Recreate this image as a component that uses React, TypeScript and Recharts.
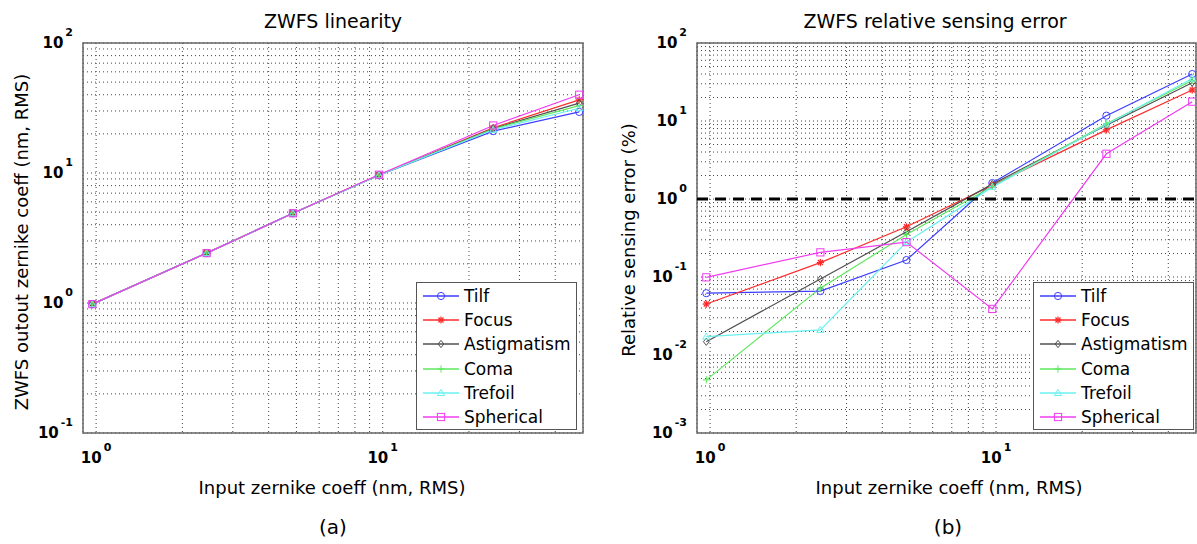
import React from "react";
import {
  LineChart,
  Line,
  XAxis,
  YAxis,
  CartesianGrid,
  ReferenceLine,
  ReferenceArea,
  Legend,
} from "recharts";

// input coefficient (nm RMS), shared by both panels
const inputCoeff = [0.97, 2.43, 4.86, 9.7, 24.3, 48.5];

const seriesNames = ["Tilf", "Focus", "Astigmatism", "Coma", "Trefoil", "Spherical"];
const seriesColors = ["#3d3dff", "#ff2b2b", "#505050", "#5fe85f", "#6af0f0", "#f03cf0"];
const seriesMarkers = ["circle", "star", "diamond", "plus", "triangle", "square"];

// (a) ZWFS output zernike coeff
const outTilf = [0.98, 2.42, 4.9, 9.6, 21.0, 29.5];
const outFocus = [0.98, 2.42, 4.9, 9.65, 22.3, 36.5];
const outAstig = [0.98, 2.42, 4.9, 9.6, 22.0, 34.5];
const outComa = [0.98, 2.42, 4.9, 9.6, 21.8, 33.0];
const outTrefoil = [0.98, 2.42, 4.9, 9.6, 21.5, 31.5];
const outSpherical = [0.98, 2.42, 4.9, 9.7, 23.2, 40.0];

// (b) relative sensing error (%)
const errTilf = [0.062, 0.066, 0.165, 1.6, 11.7, 40];
const errFocus = [0.045, 0.153, 0.44, 1.5, 7.7, 25];
const errAstig = [0.0148, 0.094, 0.38, 1.55, 8.8, 31];
const errComa = [0.0048, 0.072, 0.35, 1.45, 9.2, 33];
const errTrefoil = [0.0172, 0.021, 0.28, 1.42, 9.0, 35];
const errSpherical = [0.099, 0.207, 0.28, 0.039, 3.8, 17.7];

// log grid ticks
const xTicks = [1, 2, 3, 4, 5, 6, 7, 8, 9, 10, 20, 30, 40];
const yTicksA = [
  0.1, 0.2, 0.3, 0.4, 0.5, 0.6, 0.7, 0.8, 0.9,
  1, 2, 3, 4, 5, 6, 7, 8, 9,
  10, 20, 30, 40, 50, 60, 70, 80, 90, 100,
];
const yTicksB = [
  0.001, 0.002, 0.003, 0.004, 0.005, 0.006, 0.007, 0.008, 0.009,
  0.01, 0.02, 0.03, 0.04, 0.05, 0.06, 0.07, 0.08, 0.09,
  0.1, 0.2, 0.3, 0.4, 0.5, 0.6, 0.7, 0.8, 0.9,
  1, 2, 3, 4, 5, 6, 7, 8, 9,
  10, 20, 30, 40, 50, 60, 70, 80, 90, 100,
];

const buildRows = (cols: number[][]) =>
  inputCoeff.map((x, i) => {
    const row: any = { x };
    seriesNames.forEach((n, k) => (row[n] = cols[k][i]));
    return row;
  });

const dataA = buildRows([outTilf, outFocus, outAstig, outComa, outTrefoil, outSpherical]);
const dataB = buildRows([errTilf, errFocus, errAstig, errComa, errTrefoil, errSpherical]);

const FONT = "DejaVu Sans, Liberation Sans, sans-serif";

const Marker = ({ cx, cy, shape, color }: any) => {
  const s = 3.6;
  const common = { stroke: color, strokeWidth: 1, fill: "none" };
  switch (shape) {
    case "circle":
      return <circle cx={cx} cy={cy} r={s} {...common} />;
    case "square":
      return <rect x={cx - s} y={cy - s} width={2 * s} height={2 * s} {...common} />;
    case "diamond":
      return (
        <polygon
          points={`${cx},${cy - s} ${cx + s * 0.8},${cy} ${cx},${cy + s} ${cx - s * 0.8},${cy}`}
          {...common}
        />
      );
    case "triangle":
      return (
        <polygon
          points={`${cx},${cy - s} ${cx + s},${cy + s * 0.7} ${cx - s},${cy + s * 0.7}`}
          {...common}
        />
      );
    case "plus":
      return (
        <g {...common}>
          <line x1={cx - s} x2={cx + s} y1={cy} y2={cy} />
          <line x1={cx} x2={cx} y1={cy - s} y2={cy + s} />
        </g>
      );
    default: {
      const d = s * 0.7;
      return (
        <g {...common} strokeWidth={1.3}>
          <line x1={cx - s} x2={cx + s} y1={cy} y2={cy} />
          <line x1={cx} x2={cx} y1={cy - s} y2={cy + s} />
          <line x1={cx - d} x2={cx + d} y1={cy - d} y2={cy + d} />
          <line x1={cx - d} x2={cx + d} y1={cy + d} y2={cy - d} />
        </g>
      );
    }
  }
};

const decadeOf = (v: number) => {
  const e = Math.round(Math.log10(v));
  return Math.abs(v - Math.pow(10, e)) < 1e-9 * Math.max(v, 1e-6) + 1e-12 ? e : null;
};

const XTick = (p: any) => {
  const e = decadeOf(p.payload.value);
  if (e === null) return <g />;
  return (
    <text x={p.x} y={p.y} dy={22} textAnchor="middle" fontFamily={FONT} fontWeight="bold" fontSize={15} fill="#000">
      <tspan>10</tspan>
      <tspan dx={2} dy={-12} fontSize={11}>{e}</tspan>
    </text>
  );
};

const YTick = (p: any) => {
  const e = decadeOf(p.payload.value);
  if (e === null) return <g />;
  return (
    <text x={p.x - 2} y={p.y} dy={5} textAnchor="end" fontFamily={FONT} fontWeight="bold" fontSize={15} fill="#000">
      <tspan>10</tspan>
      <tspan dx={2} dy={-12} fontSize={11}>{e}</tspan>
    </text>
  );
};

const LegendBox = () => (
  <div
    style={{
      border: "1px solid #555",
      background: "#fff",
      width: 161,
      height: 148,
      boxSizing: "border-box",
      paddingTop: 1,
      fontFamily: FONT,
      fontSize: 17,
      color: "#000",
    }}
  >
    {seriesNames.map((n, i) => (
      <div key={n} style={{ display: "flex", alignItems: "center", height: 24.2 }}>
        <svg width={47} height={20} style={{ flex: "none" }}>
          <line x1={6} x2={42} y1={10} y2={10} stroke={seriesColors[i]} strokeWidth={1.5} />
          <Marker cx={24} cy={10} shape={seriesMarkers[i]} color={seriesColors[i]} />
        </svg>
        <span style={{ whiteSpace: "nowrap" }}>{n}</span>
      </div>
    ))}
  </div>
);

const renderLines = () =>
  seriesNames.map((n, i) => (
    <Line
      key={n}
      type="linear"
      dataKey={n}
      stroke={seriesColors[i]}
      strokeWidth={1.2}
      isAnimationActive={false}
      activeDot={false}
      dot={(p: any) => (
        <Marker key={`${n}-${p.index}`} cx={p.cx} cy={p.cy} shape={seriesMarkers[i]} color={seriesColors[i]} />
      )}
    />
  ));

const textStyle: React.CSSProperties = {
  position: "absolute",
  fontFamily: FONT,
  color: "#000",
  whiteSpace: "nowrap",
  transform: "translate(-50%, -50%)",
  lineHeight: 1,
};

const App: React.FC = () => {
  return (
    <div style={{ position: "absolute", left: 0, top: 0, width: 1197, height: 544, background: "#fff" }}>
      {/* (a) linearity */}
      <div style={{ position: "absolute", left: 0, top: 0 }}>
        <LineChart width={600} height={544} data={dataA} margin={{ top: 43, right: 17, left: 0, bottom: 81 }}>
          <CartesianGrid stroke="#444" strokeDasharray="1 3" />
          <XAxis
            dataKey="x"
            type="number"
            scale="log"
            domain={[0.9, 50]}
            allowDataOverflow
            ticks={xTicks}
            interval={0}
            height={30}
            axisLine={false}
            tickLine={false}
            tick={<XTick />}
          />
          <YAxis
            type="number"
            scale="log"
            domain={[0.1, 100]}
            allowDataOverflow
            ticks={yTicksA}
            interval={0}
            width={83}
            axisLine={false}
            tickLine={false}
            tick={<YTick />}
          />
          <ReferenceArea x1={0.9} x2={50} y1={0.1} y2={100} fill="none" stroke="#666" strokeWidth={1.5} />
          {renderLines()}
          <Legend
            layout="vertical"
            align="center"
            verticalAlign="middle"
            content={<LegendBox />}
            wrapperStyle={{ left: 416, top: 282, width: 161, height: 148 }}
          />
        </LineChart>
      </div>

      {/* (b) relative sensing error */}
      <div style={{ position: "absolute", left: 600, top: 0 }}>
        <LineChart width={597} height={544} data={dataB} margin={{ top: 43, right: 1, left: 0, bottom: 81 }}>
          <CartesianGrid stroke="#444" strokeDasharray="1 3" />
          <XAxis
            dataKey="x"
            type="number"
            scale="log"
            domain={[0.9, 50]}
            allowDataOverflow
            ticks={xTicks}
            interval={0}
            height={30}
            axisLine={false}
            tickLine={false}
            tick={<XTick />}
          />
          <YAxis
            type="number"
            scale="log"
            domain={[0.001, 100]}
            allowDataOverflow
            ticks={yTicksB}
            interval={0}
            width={97}
            axisLine={false}
            tickLine={false}
            tick={<YTick />}
          />
          <ReferenceArea x1={0.9} x2={50} y1={0.001} y2={100} fill="none" stroke="#666" strokeWidth={1.5} />
          {renderLines()}
          <ReferenceLine y={1} stroke="#000" strokeWidth={3} strokeDasharray="11 7" />
          <Legend
            layout="vertical"
            align="center"
            verticalAlign="middle"
            content={<LegendBox />}
            wrapperStyle={{ left: 433, top: 282, width: 161, height: 148 }}
          />
        </LineChart>
      </div>

      {/* titles and axis labels */}
      <div style={{ ...textStyle, left: 333, top: 21, fontSize: 19 }}>ZWFS linearity</div>
      <div style={{ ...textStyle, left: 935, top: 21, fontSize: 19 }}>ZWFS relative sensing error</div>
      <div style={{ ...textStyle, left: 332, top: 488, fontSize: 18 }}>Input zernike coeff (nm, RMS)</div>
      <div style={{ ...textStyle, left: 949, top: 488, fontSize: 18 }}>Input zernike coeff (nm, RMS)</div>
      <div style={{ ...textStyle, left: 333, top: 527, fontSize: 20 }}>(a)</div>
      <div style={{ ...textStyle, left: 948, top: 527, fontSize: 20 }}>(b)</div>
      <div style={{ ...textStyle, left: 22, top: 242, fontSize: 18, transform: "translate(-50%, -50%) rotate(-90deg)" }}>
        ZWFS outout zernike coeff (nm, RMS)
      </div>
      <div style={{ ...textStyle, left: 629, top: 240, fontSize: 18, transform: "translate(-50%, -50%) rotate(-90deg)" }}>
        Relative sensing error (%)
      </div>
    </div>
  );
};

export default App;
